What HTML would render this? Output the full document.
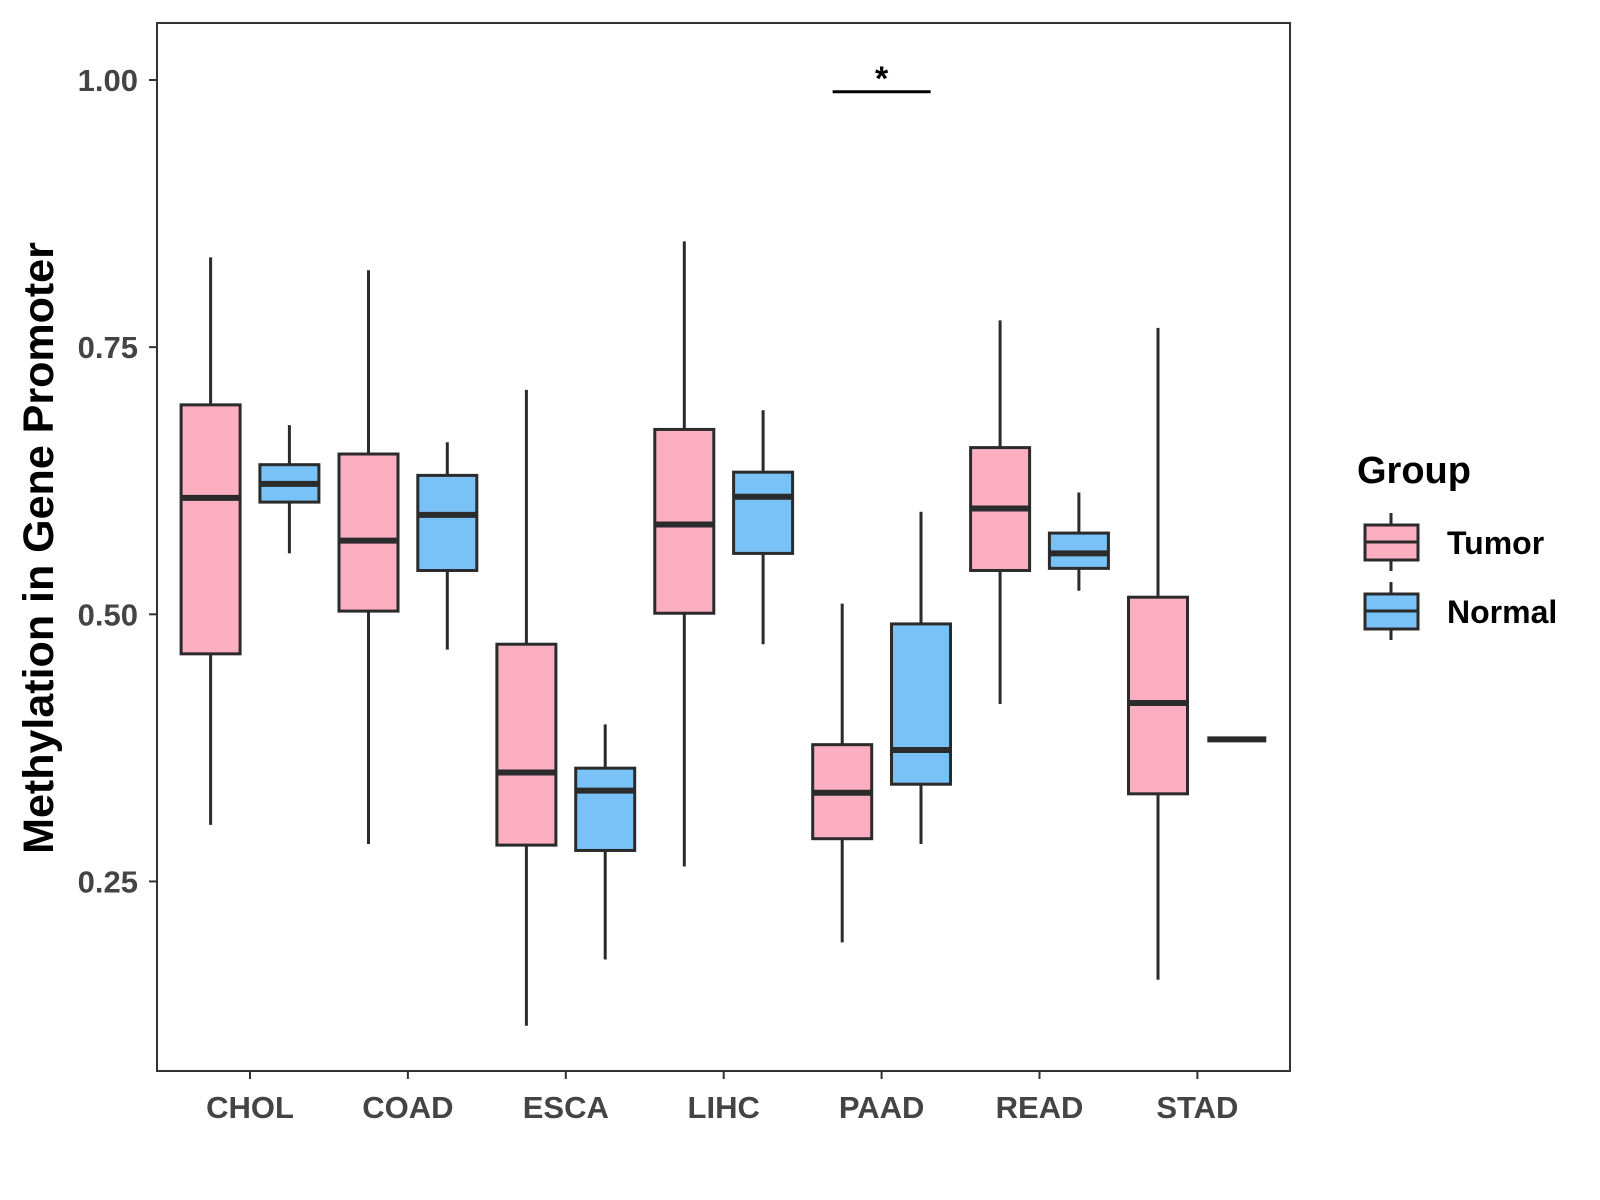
<!DOCTYPE html>
<html><head><meta charset="utf-8"><style>
html,body{margin:0;padding:0;background:#fff;}
svg{display:block;font-family:"Liberation Sans",Arial,sans-serif;font-weight:bold;}
</style></head><body>
<svg id="chart" width="1600" height="1200" xmlns="http://www.w3.org/2000/svg">
<rect x="0" y="0" width="1600" height="1200" fill="#fff"/>
<g id="marks"></g>
<rect x="157" y="23" width="1133" height="1048" fill="none" stroke="#333" stroke-width="2"/>
<g id="axes"></g>
<text x="53" y="548" transform="rotate(-90 53 548)" text-anchor="middle" font-size="43" fill="#000">Methylation in Gene Promoter</text>
<g>
<text x="1357" y="483" font-size="38" fill="#000">Group</text>
<g>
<line x1="1391" y1="513" x2="1391" y2="571" stroke="#2b2b2b" stroke-width="3"/>
<rect x="1365" y="525" width="53" height="35" fill="#FBAFC1" stroke="#2b2b2b" stroke-width="3"/>
<line x1="1365" y1="542" x2="1418" y2="542" stroke="#2b2b2b" stroke-width="3"/>
<text x="1447" y="554" font-size="32" fill="#000">Tumor</text>
</g>
<g>
<line x1="1391" y1="582" x2="1391" y2="640" stroke="#2b2b2b" stroke-width="3"/>
<rect x="1365" y="594" width="53" height="35" fill="#79C2F8" stroke="#2b2b2b" stroke-width="3"/>
<line x1="1365" y1="611" x2="1418" y2="611" stroke="#2b2b2b" stroke-width="3"/>
<text x="1447" y="623" font-size="32" fill="#000">Normal</text>
</g>
</g>
</svg>
<script>
const categories = ["CHOL","COAD","ESCA","LIHC","PAAD","READ","STAD"];
const groups = ["Tumor","Normal"];
// [min, q1, median, q3, max]
const tumorStats = [
 [0.303,0.463,0.609,0.696,0.834],
 [0.285,0.503,0.569,0.650,0.822],
 [0.115,0.284,0.352,0.472,0.710],
 [0.264,0.501,0.584,0.673,0.849],
 [0.193,0.290,0.333,0.378,0.510],
 [0.416,0.541,0.599,0.656,0.775],
 [0.158,0.332,0.417,0.516,0.768]
];
const normalStats = [
 [0.557,0.605,0.622,0.640,0.677],
 [0.467,0.541,0.593,0.630,0.661],
 [0.177,0.279,0.335,0.356,0.397],
 [0.472,0.557,0.610,0.633,0.691],
 [0.285,0.341,0.373,0.491,0.596],
 [0.522,0.543,0.557,0.576,0.614],
 [0.383,0.383,0.383,0.383,0.383]
];
const yTicks = [0.25,0.50,0.75,1.00];
const yTickLabels = ["0.25","0.50","0.75","1.00"];
const sigCategory = "PAAD";
const sigValue = 0.989;
const sigLabel = "*";

const NS="http://www.w3.org/2000/svg";
function yScale(v){return 80+(1-v)*1068.6;}
function xScale(i){return 250+i*157.9;}
function mk(tag,attrs,parent){const e=document.createElementNS(NS,tag);for(const k in attrs)e.setAttribute(k,attrs[k]);parent.appendChild(e);return e;}
const marks=document.getElementById('marks');
const axes=document.getElementById('axes');
const fills=["#FBAFC1","#79C2F8"];
const half=29.5, off=39.4;
[tumorStats,normalStats].forEach((arr,g)=>{
 arr.forEach((s,i)=>{
  const cx=xScale(i)+(g===0?-off:off);
  const grp=mk('g',{},marks);
  
  
  mk('line',{x1:cx,x2:cx,y1:yScale(s[4]),y2:yScale(s[0]),stroke:'#2b2b2b','stroke-width':3},grp);
  mk('rect',{x:cx-half,y:yScale(s[3]),width:2*half,height:Math.max(0,yScale(s[1])-yScale(s[3])),fill:fills[g],stroke:'#2b2b2b','stroke-width':3},grp);
  mk('line',{x1:cx-half,x2:cx+half,y1:yScale(s[2]),y2:yScale(s[2]),stroke:'#2b2b2b','stroke-width':6},grp);
 });
});
yTicks.forEach((t,i)=>{
 const y=yScale(t);
 const l=mk('line',{x1:149,x2:157,y1:y,y2:y,stroke:'#333','stroke-width':2},axes);
 
 
 const tx=mk('text',{x:138,y:y+11,'text-anchor':'end','font-size':31,fill:'#444'},axes);
 tx.textContent=yTickLabels[i];
 
 
});
categories.forEach((c,i)=>{
 const x=xScale(i);
 const l=mk('line',{x1:x,x2:x,y1:1071,y2:1079,stroke:'#333','stroke-width':2},axes);
 
 
 const tx=mk('text',{x:x,y:1118,'text-anchor':'middle','font-size':31,fill:'#444'},axes);
 tx.textContent=c;
 
 
});
const si=categories.indexOf(sigCategory);
const sy=yScale(sigValue);
const sg=mk('g',{},marks);


mk('line',{x1:xScale(si)-49,x2:xScale(si)+49,y1:sy,y2:sy,stroke:'#000','stroke-width':3},sg);
const st=mk('text',{x:xScale(si),y:sy-2,'text-anchor':'middle','font-size':34,fill:'#000'},sg);
st.textContent=sigLabel;
</script>
</body></html>
